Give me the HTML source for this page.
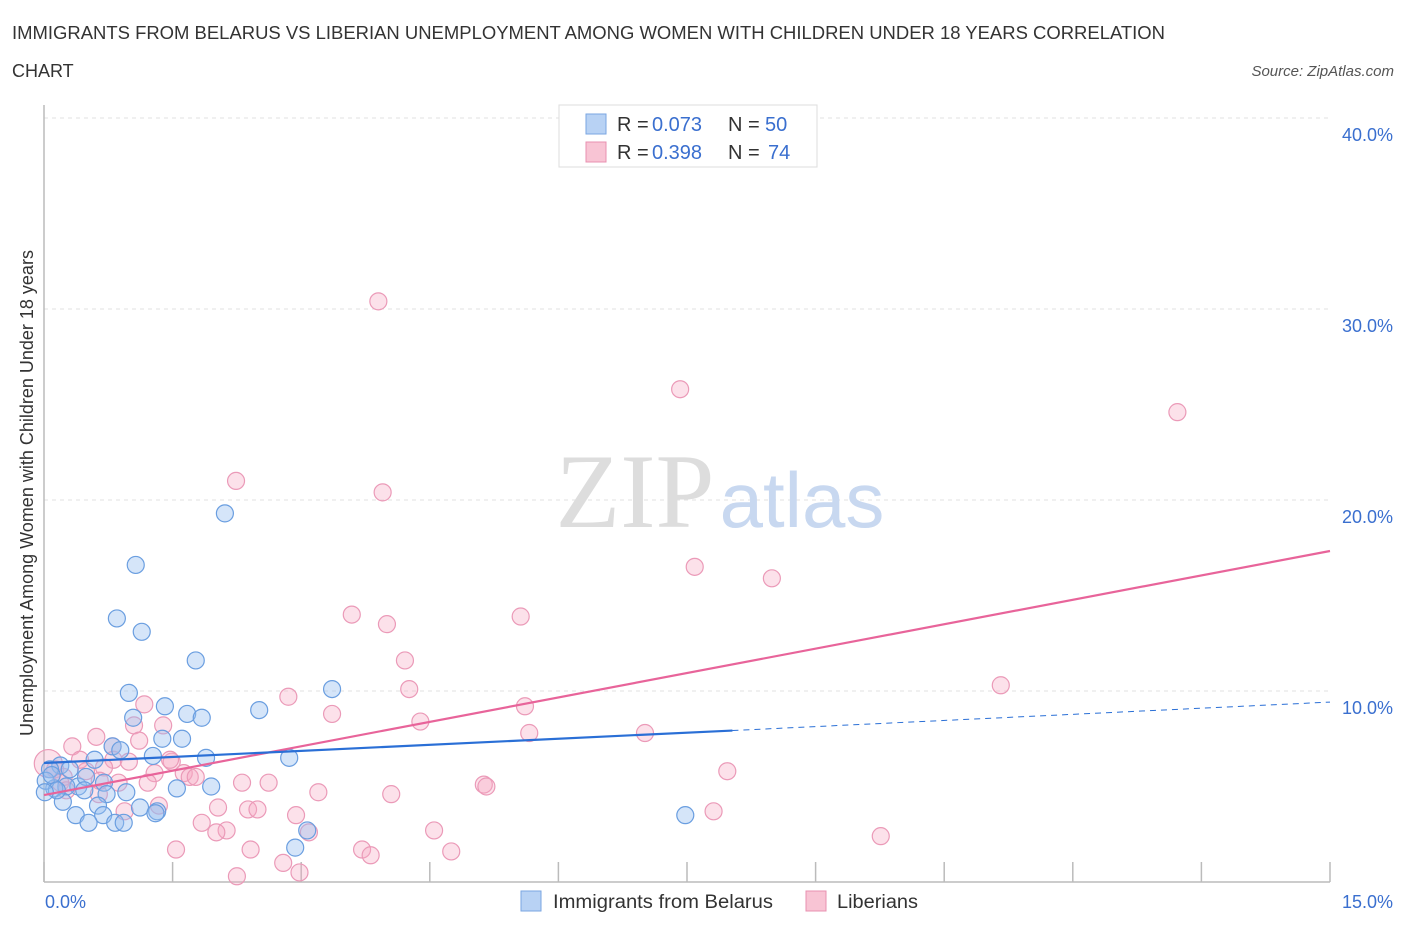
<!DOCTYPE html>
<html><head><meta charset="utf-8"><style>
body{margin:0;background:#fff;font-family:"Liberation Sans",sans-serif;}
svg{display:block}
</style></head><body>
<svg id="chart" width="1406" height="930">
<text x="12" y="39" font-size="18" fill="#333" textLength="1153" lengthAdjust="spacingAndGlyphs">IMMIGRANTS FROM BELARUS VS LIBERIAN UNEMPLOYMENT AMONG WOMEN WITH CHILDREN UNDER 18 YEARS CORRELATION</text>
<text x="12" y="77" font-size="18" fill="#333">CHART</text>
<text x="1394" y="76" font-size="15" fill="#555" font-style="italic" text-anchor="end">Source: ZipAtlas.com</text>
<text x="33" y="493" font-size="18" fill="#333" text-anchor="middle" transform="rotate(-90 33 493)">Unemployment Among Women with Children Under 18 years</text>
<g id="grid"></g>
<text x="635" y="527" font-size="106" fill="#ddd" font-family="Liberation Serif,serif" text-anchor="middle">ZIP</text>
<text x="802" y="527" font-size="78" fill="#c8d8f0" text-anchor="middle">atlas</text>
<g id="pts"></g>
<g id="lines"></g>
<g>
<rect x="559" y="105" width="258" height="62" fill="#fff" stroke="#ddd"/>
<rect x="586" y="114" width="20" height="20" fill="#b8d2f4" stroke="#7aa6e2"/>
<rect x="586" y="142" width="20" height="20" fill="#f8c4d4" stroke="#e890b0"/>
<text y="131" font-size="20"><tspan x="617" fill="#333">R = </tspan><tspan x="652" fill="#3a6fcf">0.073</tspan><tspan x="728" fill="#333">N = </tspan><tspan x="765" fill="#3a6fcf">50</tspan></text>
<text y="159" font-size="20"><tspan x="617" fill="#333">R = </tspan><tspan x="652" fill="#3a6fcf">0.398</tspan><tspan x="728" fill="#333">N = </tspan><tspan x="768" fill="#3a6fcf">74</tspan></text>
</g>
<text x="45" y="908" font-size="18" fill="#3a6fcf">0.0%</text>
<text x="1393" y="908" font-size="18" fill="#3a6fcf" text-anchor="end">15.0%</text>
<rect x="521" y="891" width="20" height="20" fill="#b8d2f4" stroke="#7aa6e2"/>
<text x="553" y="908" font-size="19" fill="#333" textLength="220" lengthAdjust="spacingAndGlyphs">Immigrants from Belarus</text>
<rect x="806" y="891" width="20" height="20" fill="#f8c4d4" stroke="#e890b0"/>
<text x="837" y="908" font-size="19" fill="#333" textLength="81" lengthAdjust="spacingAndGlyphs">Liberians</text>
</svg>
<script>
const yTicks=[10,20,30,40];
const yTickLabels=["10.0%","20.0%","30.0%","40.0%"];
const xTicks=[0,1.5,3,4.5,6,7.5,9,10.5,12,13.5,15];
const belarusX=[2.11,1.07,0.85,1.14,1.77,0.99,3.36,1.41,1.67,1.84,1.04,2.51,1.38,1.61,0.80,0.89,1.27,1.89,2.86,0.59,0.19,0.07,0.70,0.40,0.26,0.12,1.55,1.95,0.96,0.73,0.22,0.63,1.12,1.32,1.30,0.37,0.69,0.52,0.83,0.93,3.07,2.93,7.48,0.02,0.09,0.15,0.30,0.49,0.01,0.47];
const belarusY=[19.3,16.6,13.8,13.1,11.6,9.9,10.1,9.2,8.8,8.6,8.6,9.0,7.5,7.5,7.1,6.9,6.6,6.5,6.5,6.4,6.1,5.9,5.2,5.0,5.0,4.9,4.9,5.0,4.7,4.6,4.2,4.0,3.9,3.7,3.6,3.5,3.5,3.1,3.1,3.1,2.7,1.8,3.5,5.3,5.6,4.8,5.9,5.5,4.7,4.8];
const liberX=[3.9,7.42,13.22,2.24,3.95,7.59,8.49,3.59,5.56,4.0,4.21,11.16,4.26,2.85,1.17,5.61,3.36,1.39,1.05,4.39,5.66,7.01,0.61,0.33,0.80,1.11,0.81,0.99,1.49,0.13,0.49,1.29,1.63,1.70,7.97,0.05,0.23,2.31,2.62,1.21,0.87,5.13,5.16,3.2,4.05,0.64,1.34,2.03,2.38,2.49,7.81,2.94,1.84,0.94,4.55,2.13,2.01,3.09,9.76,1.54,2.41,3.71,4.75,3.81,2.79,2.25,2.98,0.70,0.19,0.42,1.47,0.26,1.77,0.65];
const liberY=[30.4,25.8,24.6,21.0,20.4,16.5,15.9,14.0,13.9,13.5,11.6,10.3,10.1,9.7,9.3,9.2,8.8,8.2,8.2,8.4,7.8,7.8,7.6,7.1,7.1,7.4,6.4,6.3,6.3,5.9,5.8,5.7,5.7,5.5,5.8,6.2,5.5,5.2,5.2,5.2,5.2,5.1,5.0,4.7,4.6,4.6,4.0,3.9,3.8,3.8,3.7,3.5,3.1,3.7,2.7,2.7,2.6,2.6,2.4,1.7,1.7,1.7,1.6,1.4,1.0,0.3,0.5,6.0,5.2,6.4,6.4,4.8,5.5,5.3];
const belarusTrend=[[0,6.23],[8.03,7.93],[15,9.42]];
const liberTrend=[[0,4.55],[15,17.33]];
const X=v=>44+v/15*1286, Y=v=>882-v*19.1;
const NS="http://www.w3.org/2000/svg";
function mk(t,a,p){const e=document.createElementNS(NS,t);for(const k in a)e.setAttribute(k,a[k]);p.appendChild(e);return e;}
const g=document.getElementById('grid');
yTicks.forEach((t,i)=>{
 const l=mk('line',{x1:44,x2:1330,y1:Y(t),y2:Y(t),stroke:'#e2e2e2','stroke-dasharray':'4,4'},g);
 
 
 const tx=mk('text',{x:1393,y:Y(t)+23,'font-size':18,fill:'#3a6fcf','text-anchor':'end'},g);
 tx.textContent=yTickLabels[i];
 
 
});
const ax=mk('line',{x1:44,x2:44,y1:105,y2:882,stroke:'#bbb','stroke-width':1.5},g);


const bx=mk('line',{x1:44,x2:1330,y1:882,y2:882,stroke:'#bbb','stroke-width':1.5},g);


xTicks.forEach(t=>{const l=mk('line',{x1:X(t),x2:X(t),y1:862,y2:882,stroke:'#bbb','stroke-width':1.5},g);
 
 });
const p=document.getElementById('pts');
liberX.forEach((v,i)=>{const c=mk('circle',{cx:X(v),cy:Y(liberY[i]),r:i==35?14:8.5,fill:'rgba(245,170,195,0.35)',stroke:'#eb9ab8','stroke-width':1.2},p);
 
 });
belarusX.forEach((v,i)=>{const c=mk('circle',{cx:X(v),cy:Y(belarusY[i]),r:8.5,fill:'rgba(150,190,240,0.4)',stroke:'#6a9ee0','stroke-width':1.2},p);
 
 });
const L=document.getElementById('lines');
let a=mk('line',{x1:X(liberTrend[0][0]),y1:Y(liberTrend[0][1]),x2:X(liberTrend[1][0]),y2:Y(liberTrend[1][1]),stroke:'#e8649a','stroke-width':2.2},L);


a=mk('line',{x1:X(belarusTrend[0][0]),y1:Y(belarusTrend[0][1]),x2:X(belarusTrend[1][0]),y2:Y(belarusTrend[1][1]),stroke:'#2a6fd6','stroke-width':2.2},L);


a=mk('line',{x1:X(belarusTrend[1][0]),y1:Y(belarusTrend[1][1]),x2:X(belarusTrend[2][0]),y2:Y(belarusTrend[2][1]),stroke:'#2a6fd6','stroke-width':1,'stroke-dasharray':'6,5'},L);


</script>
</body></html>
